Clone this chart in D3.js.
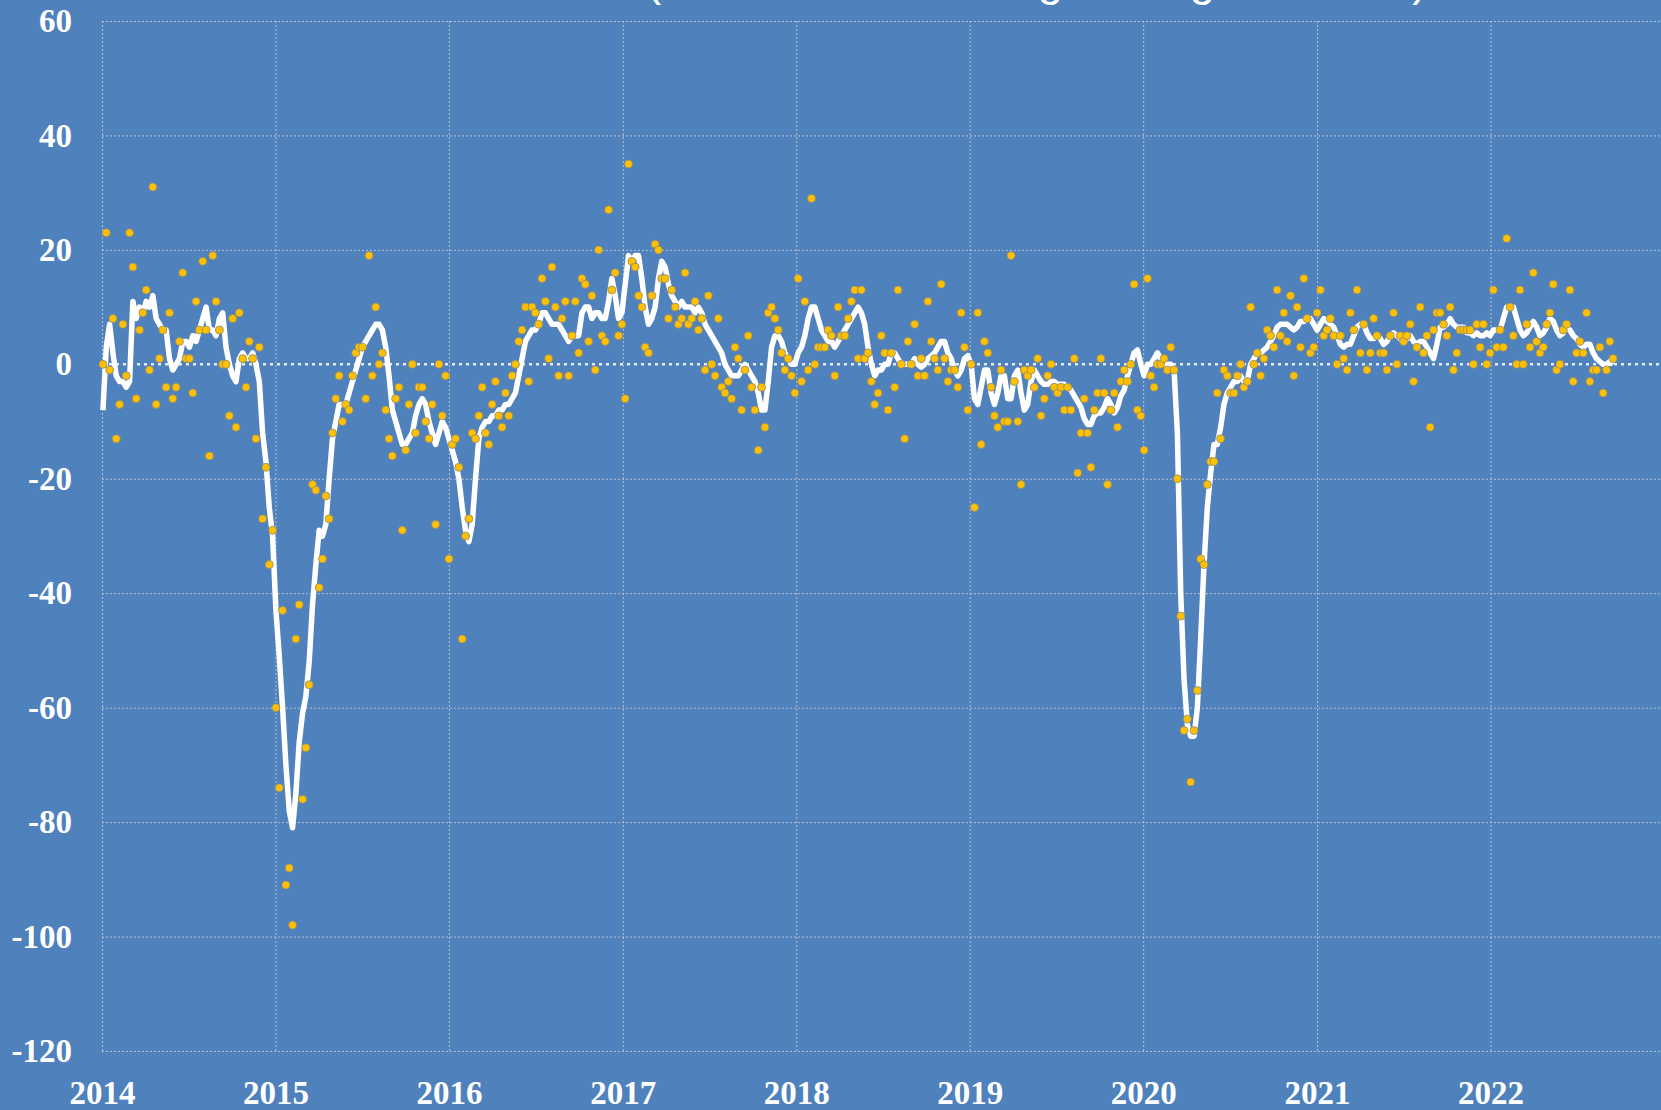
<!DOCTYPE html>
<html>
<head>
<meta charset="utf-8">
<script src="https://cdn.jsdelivr.net/npm/d3@7"></script>
<style>
  html, body { margin: 0; padding: 0; background: #4f81bd; overflow: hidden; }
  svg { display: block; }
</style>
</head>
<body>
<svg id="chart"></svg>
<script>
const width = 1661;
const height = 1110;

const titleText = 'Sentiment index (line: 4-week moving average of index)';

// first weekly observation, one value per week after it
const firstWeek = new Date(2014, 0, 3);
const yearTicks = [2014, 2015, 2016, 2017, 2018, 2019, 2020, 2021, 2022];
const yTicks = [-120, -100, -80, -60, -40, -20, 0, 20, 40, 60];

// weekly readings (yellow dots)
const weeklyValues = [
  0, 23, -1, 8, -13, -7, 7, -2, 23, 17,
  -6, 6, 9, 13, -1, 31, -7, 1, 6, -4,
  9, -6, -4, 4, 16, 1, 1, -5, 11, 6,
  18, 6, -16, 19, 11, 6, 0, 0, -9, 8,
  -11, 9, 1, -4, 4, 1, -13, 3, -27, -18,
  -35, -29, -60, -74, -43, -91, -88, -98, -48, -42,
  -76, -67, -56, -21, -22, -39, -34, -23, -27, -12,
  -6, -2, -10, -7, -8, -2, 2, 3, 3, -6,
  19, -2, 10, 0, 2, -8, -13, -16, -6, -4,
  -29, -15, -7, 0, -12, -4, -4, -10, -13, -7,
  -28, 0, -9, -2, -34, -14, -13, -18, -48, -30,
  -27, -12, -13, -9, -4, -12, -14, -7, -3, -9,
  -11, -5, -9, -2, 0, 4, 6, 10, -3, 10,
  9, 7, 15, 11, 1, 17, 10, -2, 8, 11,
  -2, 5, 11, 2, 15, 14, 4, 12, -1, 20,
  5, 4, 27, 13, 16, 5, 7, -6, 35, 18,
  17, 12, 10, 3, 2, 12, 21, 20, 15, 15,
  8, 13, 10, 7, 8, 16, 7, 8, 11, 6,
  8, -1, 12, 0, -2, 8, -4, -5, -3, -6,
  3, 1, -8, -1, 5, -4, -8, -15, -4, -11,
  9, 10, 8, 6, 2, -1, 1, -2, -5, 15,
  -3, 11, -1, 29, 0, 3, 3, 3, 6, 5,
  -2, 10, 5, 5, 8, 11, 13, 1, 13, 1,
  2, -3, -7, -5, 5, 2, -8, 2, -4, 13,
  0, -13, 4, 0, 7, -2, 1, -2, 11, 4,
  1, -1, 14, 1, -3, -1, -1, -4, 9, 3,
  -8, 0, -25, 9, -14, 4, 2, -4, -9, -11,
  -1, -10, -10, 19, -3, -10, -21, -1, -2, -1,
  -4, 1, -9, -6, -2, 0, -4, -5, -4, -8,
  -4, -8, 1, -19, -12, -6, -12, -18, -8, -5,
  1, -5, -21, -8, -5, -11, -3, -1, -3, 0,
  14, -8, -9, -15, 15, -2, -4, 0, 0, 1,
  -1, 3, -1, -20, -44, -64, -62, -73, -64, -57,
  -34, -35, -21, -17, -17, -5, -13, -1, -2, -5,
  -5, -2, 0, -4, -3, 10, 0, 2, -2, 1,
  6, 5, 3, 13, 5, 9, 4, 12, -2, 10,
  3, 15, 8, 2, 3, 9, 13, 5, 6, 8,
  5, 0, 5, 1, -1, 9, 6, 13, 2, 7,
  -1, 2, 8, 5, 2, 2, -1, 5, 9, 0,
  5, 4, 5, 7, -3, 3, 10, 2, 5, -11,
  6, 9, 9, 7, 5, 10, -1, 2, 6, 6,
  6, 6, 0, 7, 3, 7, 0, 2, 13, 3,
  6, 3, 22, 10, 5, 0, 13, 0, 7, 3,
  16, 4, 2, 3, 7, 9, 14, -1, 0, 6,
  7, 13, -3, 2, 4, 2, 9, -3, -1, -1,
  3, -5, -1, 4, 1
];

// 4-week moving average (white line)
const movingAverage = [
  -8, 3, 7, 2, -2, -3, -3, -4, -3, 11,
  8, 10, 9, 11, 10, 12, 8, 7, 6, 6,
  1, -1, 0, 1, 4, 4, 3, 5, 4, 6,
  8, 10, 6, 6, 5, 8, 9, 3, 0, -2,
  -3, 1, 2, 1, 1, 2, 0, -3, -12, -17,
  -25, -30, -43, -51, -60, -70, -78, -81, -75, -66,
  -61, -58, -52, -42, -35, -29, -30, -28, -20, -13,
  -10, -7, -7, -7, -5, -3, -1, 1, 3, 4,
  5, 6, 7, 7, 6, 3, -2, -8, -10, -12,
  -14, -14, -13, -12, -9, -7, -6, -7, -10, -12,
  -14, -12, -10, -11, -13, -15, -17, -20, -25, -29,
  -31, -28, -20, -13, -11, -10, -10, -9, -9, -8,
  -8, -7, -7, -6, -5, -2, 1, 4, 5, 6,
  6, 7, 9, 9, 8, 7, 7, 7, 6, 5,
  4, 5, 5, 5, 9, 10, 10, 8, 9, 9,
  8, 8, 11, 15, 12, 8, 9, 14, 19, 18,
  19, 19, 15, 10, 7, 8, 10, 15, 18, 17,
  14, 12, 11, 10, 11, 10, 10, 10, 9, 10,
  9, 7, 6, 5, 4, 3, 2, 0, -1, -2,
  -2, -2, -1, 0, -1, -2, -3, -5, -8, -8,
  -3, 3, 5, 5, 4, 2, 1, 0, 0, 2,
  3, 5, 8, 10, 10, 8, 6, 5, 4, 4,
  3, 4, 5, 6, 7, 8, 9, 10, 9, 7,
  3, 0, -2, -1, -1, 0, 0, 2, 2, 1,
  0, 0, 0, 0, 1, 0, -0.5, 0, 1, 1.5,
  2, 3, 4, 4, 2, 1, -1, -2, -1, 1,
  1.5, 0, -6, -7, -4, -1, -1, -5, -7, -5,
  -2, -2, -6, -6, -2, -1, -5, -8, -7, -3,
  -1, -2, -3, -3.5, -3.5, -3, -3, -3.5, -3.5, -3.5,
  -4, -4.5, -5.5, -6.5, -7.5, -9.5, -10.5, -10.5, -9, -8.5,
  -8.5, -7.5, -6, -7, -8.5, -7.5, -5.5, -4.5, -2, 0,
  2, 2.5, 0, -2, 0, 0, 1, 2, 1, 0,
  0, 0, -1, -12, -40, -55, -63, -65, -65, -60,
  -48, -35, -25, -19, -14, -14, -11, -7, -5, -4,
  -3, -3, -2, -3, -3, 0, 1, 2, 2, 2.5,
  3, 4, 5, 6.5, 7, 7, 7, 6.5, 6, 6.5,
  7.5, 7.5, 8, 8, 7, 6, 7, 8, 7.5, 7,
  6.5, 5, 3.5, 3, 3.5, 3.5, 5, 6.5, 7, 7,
  5.5, 4.5, 4.5, 5, 4.5, 3.5, 4, 5, 5.5, 5,
  4.5, 4, 4.5, 5, 4, 3.5, 4, 4, 3, 2,
  1, 3.5, 6.5, 6.5, 7, 8, 7, 6.5, 6.5, 6.5,
  5.5, 5.5, 5, 5.5, 5, 5, 5.5, 5, 6, 6,
  6, 8, 10, 10, 10, 8, 6, 5, 5.5, 6.5,
  7.5, 6.5, 5, 5.5, 6.5, 8, 7.5, 6, 5, 5.5,
  6.5, 6, 5, 4.5, 3.5, 3, 3.5, 3.5, 2, 1,
  0.5, 0, 0, 0.5, 0
];

const margin = { top: 21, right: -3, bottom: 59, left: 102 };
const plotRight = width - margin.right;
const plotBottom = height - margin.bottom;

const svg = d3.select('#chart').attr('width', width).attr('height', height);

svg.append('rect')
  .attr('width', width)
  .attr('height', height)
  .attr('fill', '#4f81bd');

const x = d3
  .scaleTime()
  .domain([new Date(2014, 0, 1), new Date(2023, 0, 1)])
  .range([margin.left, plotRight]);

const y = d3
  .scaleLinear()
  .domain([-120, 60])
  .range([plotBottom, margin.top]);

const weekDate = (i) => d3.timeDay.offset(firstWeek, 7 * i);
const dots = weeklyValues.map((v, i) => ({ date: weekDate(i), value: v }));
const avg = movingAverage.map((v, i) => ({ date: weekDate(i), value: v }));

// title, mostly above the visible area (cut off like the original)
svg.append('text')
  .attr('x', 307)
  .attr('y', -5)
  .attr('fill', '#fff')
  .style('font-family', '"Liberation Sans", Arial, sans-serif')
  .style('font-size', '45.5px')
  .text(titleText);

// horizontal grid + labels (plain hyphen for negatives)
const yAxis = svg.append('g')
  .attr('transform', `translate(${margin.left},0)`)
  .call(
    d3.axisLeft(y)
      .tickValues(yTicks)
      .tickFormat((d) => String(d))
      .tickSize(-(plotRight - margin.left))
      .tickPadding(30)
  );

// vertical grid + year labels
const xAxis = svg.append('g')
  .attr('transform', `translate(0,${plotBottom})`)
  .call(
    d3.axisBottom(x)
      .tickValues(yearTicks.map((yr) => new Date(yr, 0, 1)))
      .tickFormat(d3.timeFormat('%Y'))
      .tickSize(-(plotBottom - margin.top))
      .tickPadding(30)
  );

[yAxis, xAxis].forEach((ax) => {
  ax.select('.domain').remove();
  ax.selectAll('.tick line')
    .attr('stroke', '#c9cdd6')
    .attr('stroke-width', 1)
    .attr('stroke-dasharray', '2,2')
    .attr('stroke-opacity', 0.85);
  ax.selectAll('.tick text')
    .attr('fill', '#fff')
    .style('font-family', '"Liberation Serif", "DejaVu Serif", serif')
    .style('font-weight', 'bold')
    .style('font-size', '33px');
});

yAxis.selectAll('.tick').filter((d) => d === 0).select('line').remove();

// dotted zero line
svg.append('line')
  .attr('x1', margin.left)
  .attr('x2', width)
  .attr('y1', y(0))
  .attr('y2', y(0))
  .attr('stroke', '#e6e9ef')
  .attr('stroke-width', 2.5)
  .attr('stroke-dasharray', '3,4');

// moving average
const line = d3
  .line()
  .x((d) => x(d.date))
  .y((d) => y(d.value));

svg.append('path')
  .datum(avg)
  .attr('d', line)
  .attr('fill', 'none')
  .attr('stroke', '#fff')
  .attr('stroke-width', 5.5)
  .attr('stroke-linejoin', 'round');

// weekly dots
svg.append('g')
  .selectAll('circle')
  .data(dots)
  .join('circle')
  .attr('cx', (d) => x(d.date))
  .attr('cy', (d) => y(d.value))
  .attr('r', 4)
  .attr('fill', '#ffc000')
  .attr('stroke', '#8c8a78')
  .attr('stroke-width', 0.8);
</script>
</body>
</html>
